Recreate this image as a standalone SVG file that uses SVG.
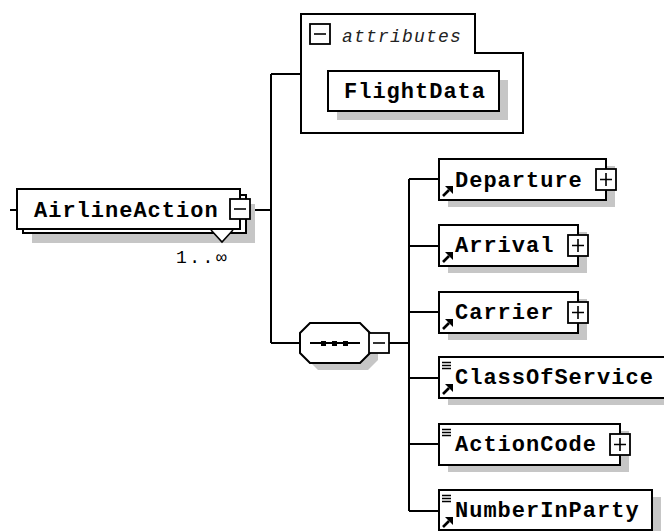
<svg xmlns="http://www.w3.org/2000/svg" xmlns:xlink="http://www.w3.org/1999/xlink" width="664" height="531" viewBox="0 0 664 531">
<style>
.box{fill:#fff;stroke:#000;stroke-width:2}
.shadow{fill:#c6c6c6;stroke:none}
.btn{fill:#fff;stroke:#000;stroke-width:1.8}
.sign{stroke:#000;stroke-width:1.6;fill:none}
.conn{stroke:#000;stroke-width:2;fill:none}
.el{font-family:"Liberation Mono","DejaVu Sans Mono",monospace;font-weight:bold;font-size:22px;letter-spacing:1px;fill:#000}
.attr{font-family:"Liberation Mono","DejaVu Sans Mono",monospace;font-style:italic;font-size:18px;letter-spacing:1.2px;fill:#222}
.occ{font-family:"Liberation Mono","DejaVu Sans Mono",monospace;font-size:18px;letter-spacing:2.5px;fill:#000}
</style>
<defs>
<g id="ref-arrow">
<line x1="4" y1="37" x2="10" y2="31" stroke="#000" stroke-width="2.6"/>
<polygon points="6,27 14,27 14,35" fill="#000"/>
</g>
<g id="simple">
<path d="M3,5.5H12M3,8.5H12M3,11.5H12" stroke="#000" stroke-width="1.3" fill="none"/>
</g>
<g id="plus">
<rect class="btn" x="-10" y="-10.5" width="20" height="21"/>
<path class="sign" d="M-6,0H6M0,-6.5V6.5"/>
</g>
<g id="minus">
<rect class="btn" x="-10" y="-10" width="20" height="20"/>
<path class="sign" d="M-6,0H6"/>
</g>
</defs>

<g id="connectors">
<path class="conn" d="M10,210H17"/>
<path class="conn" d="M250,210H271"/>
<path class="conn" d="M271,74V343"/>
<path class="conn" d="M271,74H301"/>
<path class="conn" d="M271,343H300"/>
<path class="conn" d="M389,343H409"/>
<path class="conn" d="M409,179V511"/>
<path class="conn" d="M409,179H439M409,246H439M409,312H439M409,378H439M409,444H439M409,511H439"/>
</g>

<g id="AirlineAction">
<rect class="shadow" x="32" y="204" width="223" height="39"/>
<rect class="box" x="23" y="195" width="223" height="38"/>
<rect class="box" x="17" y="189" width="223" height="40"/>
<text class="el" x="34" y="217">AirlineAction</text>
<use xlink:href="#minus" x="240" y="209"/>
<polygon points="211,230 222,242 233,230" fill="#fff" stroke="none"/>
<polyline points="211,230 222,242 233,230" fill="none" stroke="#000" stroke-width="1.6"/>
<text class="occ" x="176" y="263">1..∞</text>
</g>

<g id="attributes">
<path class="box" d="M301,133V14H475V53H523V133Z"/>
<use xlink:href="#minus" x="320" y="34"/>
<text class="attr" x="342" y="42">attributes</text>
</g>

<g id="FlightData">
<rect class="shadow" x="337" y="80" width="171" height="40"/>
<rect class="box" x="328" y="71" width="171" height="40"/>
<text class="el" x="344" y="98">FlightData</text>
</g>

<g id="sequence">
<polygon class="shadow" points="318,330 368,330 378,340 378,360 368,370 318,370 308,360 308,340"/>
<polygon class="box" points="310,323 360,323 370,333 370,353 360,363 310,363 300,353 300,333"/>
<path class="conn" d="M310,343H360"/>
<rect x="321" y="341" width="5" height="5" fill="#000"/>
<rect x="332" y="341" width="5" height="5" fill="#000"/>
<rect x="343" y="341" width="5" height="5" fill="#000"/>
<use xlink:href="#minus" x="379" y="343"/>
</g>

<g id="Departure">
<rect class="shadow" x="448" y="166" width="167" height="41"/>
<rect class="box" x="439" y="159" width="167" height="41"/>
<use xlink:href="#ref-arrow" x="439" y="159"/>
<text class="el" x="455" y="187">Departure</text>
<use xlink:href="#plus" x="606" y="179.5"/>
</g>

<g id="Arrival">
<rect class="shadow" x="448" y="232" width="139" height="41"/>
<rect class="box" x="439" y="225" width="139" height="41"/>
<use xlink:href="#ref-arrow" x="439" y="225"/>
<text class="el" x="455" y="252">Arrival</text>
<use xlink:href="#plus" x="578" y="245.5"/>
</g>

<g id="Carrier">
<rect class="shadow" x="448" y="299" width="139" height="41"/>
<rect class="box" x="439" y="292" width="139" height="41"/>
<use xlink:href="#ref-arrow" x="439" y="292"/>
<text class="el" x="455" y="319">Carrier</text>
<use xlink:href="#plus" x="578" y="312.5"/>
</g>

<g id="ClassOfService">
<rect class="shadow" x="448" y="364" width="228" height="41"/>
<rect class="box" x="439" y="357" width="228" height="41"/>
<use xlink:href="#simple" x="439" y="357"/>
<use xlink:href="#ref-arrow" x="439" y="357"/>
<text class="el" x="455" y="384">ClassOfService</text>
</g>

<g id="ActionCode">
<rect class="shadow" x="448" y="431" width="181" height="41"/>
<rect class="box" x="439" y="424" width="181" height="41"/>
<use xlink:href="#simple" x="439" y="424"/>
<text class="el" x="455" y="451">ActionCode</text>
<use xlink:href="#plus" x="620" y="444.5"/>
</g>

<g id="NumberInParty">
<rect class="shadow" x="448" y="497" width="213" height="41"/>
<rect class="box" x="439" y="490" width="213" height="40"/>
<use xlink:href="#simple" x="439" y="490"/>
<use xlink:href="#ref-arrow" x="439" y="490"/>
<text class="el" x="455" y="517">NumberInParty</text>
</g>
</svg>
